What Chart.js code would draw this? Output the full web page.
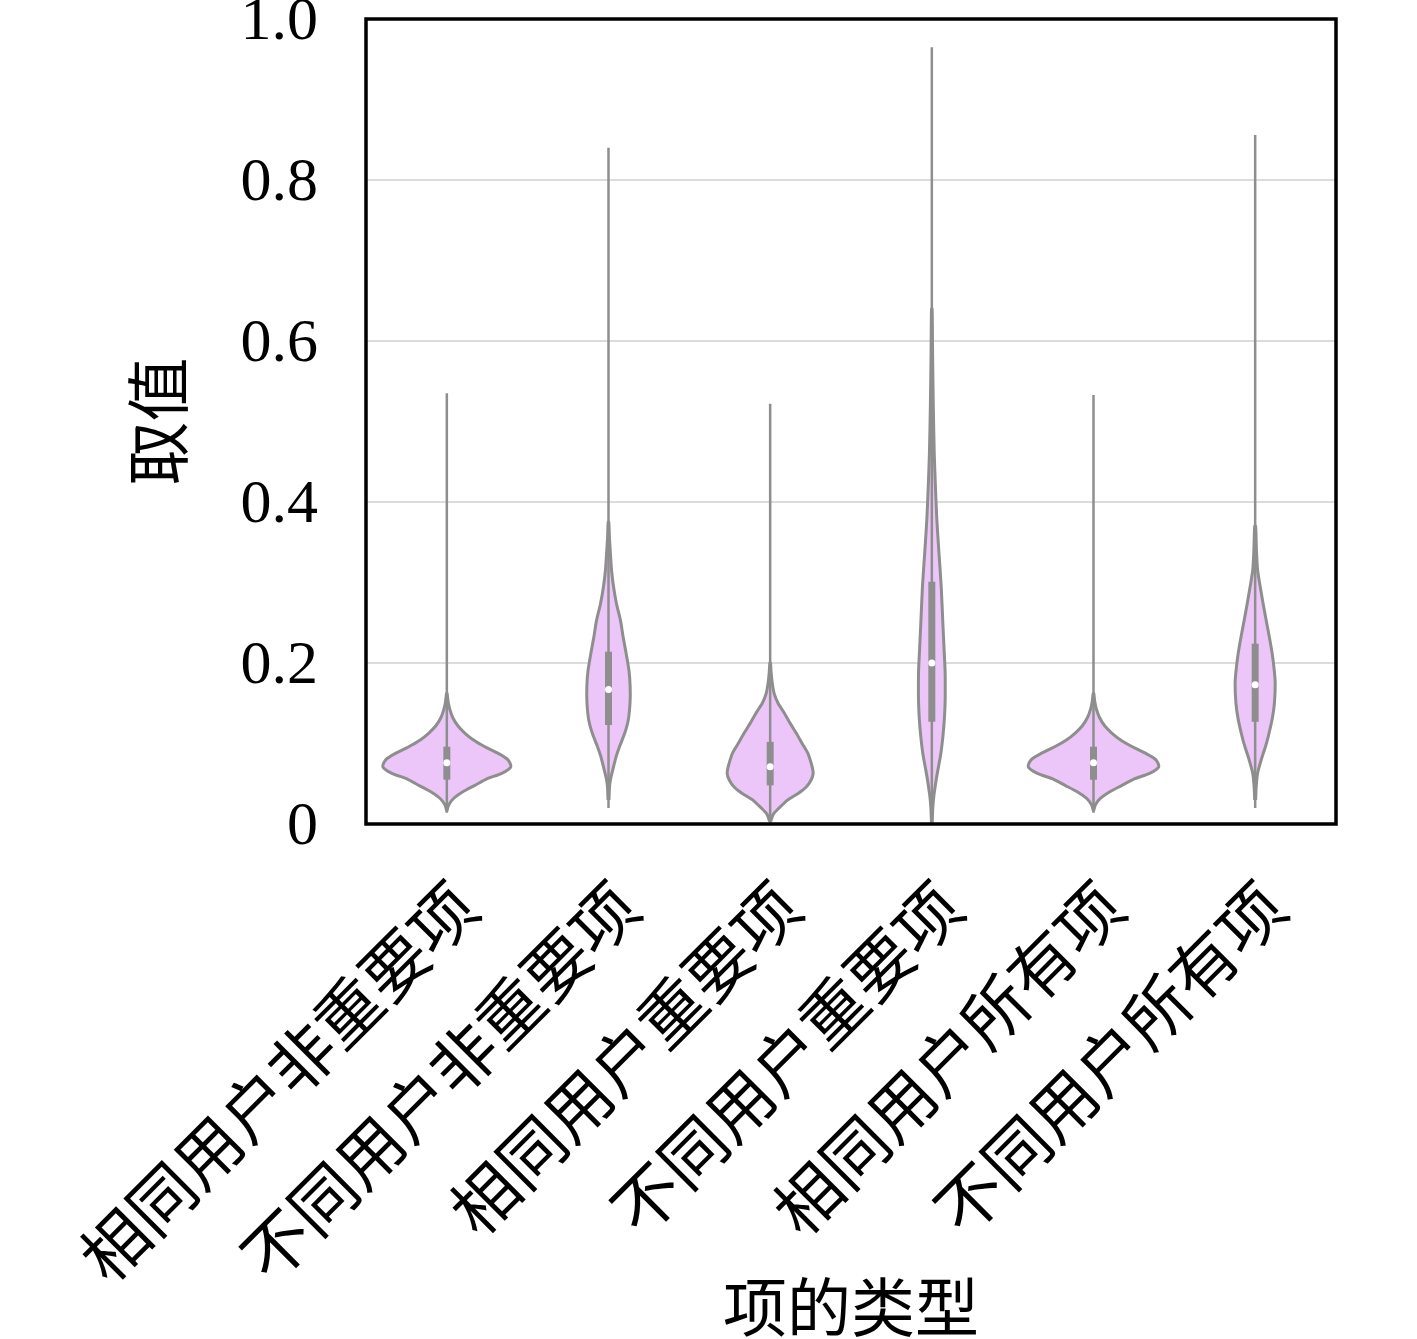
<!DOCTYPE html>
<html>
<head>
<meta charset="utf-8">
<script src="https://cdn.jsdelivr.net/npm/chart.js@4.4.0/dist/chart.umd.min.js"></script>
<style>
  body { margin: 0; background: #fff; }
</style>
</head>
<body>
<canvas id="chart" width="1417" height="1339"></canvas>
<script>
// categories on the x axis
var categories = ['相同用户非重要项', '不同用户非重要项', '相同用户重要项', '不同用户重要项', '相同用户所有项', '不同用户所有项']
var yTickLabels = ['0', '0.2', '0.4', '0.6', '0.8', '1.0']

// inner box of each violin
var whiskerLow  = [0.014, 0.02, 0.0, 0.0, 0.014, 0.02]
var whiskerHigh = [0.535, 0.84, 0.522, 0.965, 0.533, 0.856]
var boxLow  = [0.055, 0.123, 0.048, 0.127, 0.055, 0.127]
var boxHigh = [0.096, 0.214, 0.102, 0.301, 0.096, 0.224]
var medians = [0.076, 0.167, 0.071, 0.200, 0.076, 0.173]

// violin outlines: value levels and half width (in category units) at each level
var densityY = [
  [0.016, 0.024, 0.032, 0.040, 0.048, 0.056, 0.063, 0.071, 0.080, 0.088, 0.096, 0.104, 0.113, 0.122, 0.132, 0.142, 0.152, 0.162],
  [0.03, 0.045, 0.055, 0.071, 0.085, 0.096, 0.112, 0.129, 0.15, 0.17, 0.19, 0.212, 0.233, 0.253, 0.274, 0.295, 0.315, 0.336, 0.355, 0.375],
  [0.003, 0.012, 0.02, 0.03, 0.038, 0.046, 0.055, 0.063, 0.071, 0.08, 0.088, 0.1, 0.113, 0.125, 0.138, 0.15, 0.162, 0.175, 0.188, 0.2],
  [0.0, 0.02, 0.034, 0.055, 0.07, 0.088, 0.108, 0.129, 0.15, 0.17, 0.19, 0.212, 0.25, 0.295, 0.34, 0.378, 0.42, 0.46, 0.52, 0.58, 0.64],
  [0.016, 0.024, 0.032, 0.040, 0.048, 0.056, 0.063, 0.071, 0.080, 0.088, 0.096, 0.104, 0.113, 0.122, 0.132, 0.142, 0.152, 0.162],
  [0.03, 0.045, 0.063, 0.0795, 0.095, 0.108, 0.13, 0.15, 0.175, 0.191, 0.212, 0.233, 0.253, 0.274, 0.295, 0.3155, 0.34, 0.37]
]
var densityHalfWidth = [
  [0, 0.012, 0.043, 0.099, 0.173, 0.247, 0.340, 0.396, 0.377, 0.315, 0.235, 0.167, 0.111, 0.068, 0.037, 0.019, 0.008, 0.002],
  [0.003, 0.006, 0.012, 0.031, 0.049, 0.068, 0.099, 0.122, 0.133, 0.134, 0.127, 0.109, 0.090, 0.074, 0.049, 0.031, 0.019, 0.012, 0.006, 0.002],
  [0.003, 0.019, 0.056, 0.109, 0.173, 0.223, 0.254, 0.266, 0.260, 0.247, 0.233, 0.198, 0.161, 0.124, 0.087, 0.049, 0.025, 0.013, 0.006, 0.002],
  [0.002, 0.006, 0.012, 0.027, 0.040, 0.056, 0.068, 0.077, 0.082, 0.083, 0.082, 0.077, 0.068, 0.058, 0.043, 0.031, 0.022, 0.015, 0.009, 0.005, 0.002],
  [0, 0.012, 0.044, 0.101, 0.176, 0.252, 0.347, 0.404, 0.385, 0.321, 0.240, 0.170, 0.113, 0.069, 0.038, 0.019, 0.008, 0.002],
  [0.003, 0.006, 0.015, 0.037, 0.062, 0.080, 0.105, 0.119, 0.124, 0.118, 0.105, 0.087, 0.068, 0.049, 0.031, 0.015, 0.008, 0.003]
]

var violinFill = '#edc6f9'
var violinEdge = '#8e8e8e'
var cjkFont = '"Noto Sans CJK SC", "Noto Sans", sans-serif'

window.onload = function() {
  DrawViolins()
}

function DrawViolins() {
  var datasets = []

  for (let i = 0; i < categories.length; i++) {
    var ys = densityY[i]
    var ws = densityHalfWidth[i]
    var outline = []
    for (let k = 0; k < ys.length; k++) outline.push({x: i + ws[k], y: ys[k]})
    for (let k = ys.length - 1; k >= 0; k--) outline.push({x: i - ws[k], y: ys[k]})
    datasets.push({
      type: 'line',
      data: outline,
      backgroundColor: violinFill,
      borderColor: violinEdge,
      borderWidth: 3,
      fill: 'shape',
      tension: 0.25,
      pointRadius: 0,
      order: 3
    })
    datasets.push({
      type: 'line',
      data: [{x: i, y: whiskerLow[i]}, {x: i, y: whiskerHigh[i]}],
      borderColor: violinEdge,
      borderWidth: 2.5,
      pointRadius: 0,
      fill: false,
      order: 2
    })
    datasets.push({
      type: 'line',
      data: [{x: i, y: boxLow[i]}, {x: i, y: boxHigh[i]}],
      borderColor: violinEdge,
      borderWidth: 7,
      borderCapStyle: 'butt',
      pointRadius: 0,
      fill: false,
      order: 1
    })
  }

  datasets.push({
    type: 'scatter',
    data: medians.map(function(m, i) { return {x: i, y: m} }),
    backgroundColor: '#ffffff',
    borderWidth: 0,
    pointRadius: 3.5,
    order: 0
  })

  var framePlugin = {
    id: 'frame',
    afterDatasetsDraw: function(chart) {
      var a = chart.chartArea
      var ctx = chart.ctx
      ctx.save()
      ctx.strokeStyle = '#000'
      ctx.lineWidth = 3.5
      ctx.strokeRect(a.left, a.top, a.right - a.left, a.bottom - a.top)
      ctx.restore()
    }
  }

  var chartPlacement = document.getElementById('chart').getContext('2d')
  new Chart(chartPlacement, {
    type: 'line',
    data: { datasets: datasets },
    plugins: [framePlugin],
    options: {
      responsive: false,
      animation: false,
      layout: { padding: { left: 0, right: 81, top: 19, bottom: 0 } },
      plugins: { legend: { display: false }, tooltip: { enabled: false } },
      scales: {
        x: {
          type: 'linear',
          min: -0.5,
          max: 5.5,
          afterBuildTicks: function(scale) {
            scale.ticks = categories.map(function(c, i) { return {value: i} })
          },
          afterFit: function(scale) { scale.height = 1339 - 824 },
          grid: { display: false },
          border: { display: false },
          ticks: {
            minRotation: 45,
            maxRotation: 45,
            autoSkip: false,
            padding: 35,
            labelOffset: 18,
            color: '#000',
            font: { family: cjkFont, size: 66 },
            callback: function(value) { return categories[value] }
          },
          title: {
            display: true,
            text: '项的类型',
            color: '#000',
            font: { family: cjkFont, size: 64, lineHeight: 1.0 },
            padding: { top: 0, bottom: 0 }
          }
        },
        y: {
          type: 'linear',
          min: 0,
          max: 1,
          afterBuildTicks: function(scale) {
            scale.ticks = yTickLabels.map(function(t) { return {value: parseFloat(t)} })
          },
          afterFit: function(scale) { scale.width = 366 },
          grid: {
            drawTicks: true,
            tickLength: 45,
            tickColor: 'rgba(0,0,0,0)',
            lineWidth: 2,
            color: function(c) {
              var v = c.tick ? c.tick.value : 0
              return (v === 0 || v === 1) ? 'rgba(0,0,0,0)' : '#dcdcdc'
            }
          },
          border: { display: false },
          ticks: {
            padding: 3,
            labelOffset: 4,
            color: '#000',
            font: { family: '"Liberation Serif", serif', size: 62, lineHeight: 0.5 },
            callback: function(value, index) { return yTickLabels[index] }
          },
          title: {
            display: true,
            text: '取值',
            color: '#000',
            font: { family: cjkFont, size: 64 },
            padding: { top: 119, bottom: 0 }
          }
        }
      }
    }
  })
}
</script>
</body>
</html>
